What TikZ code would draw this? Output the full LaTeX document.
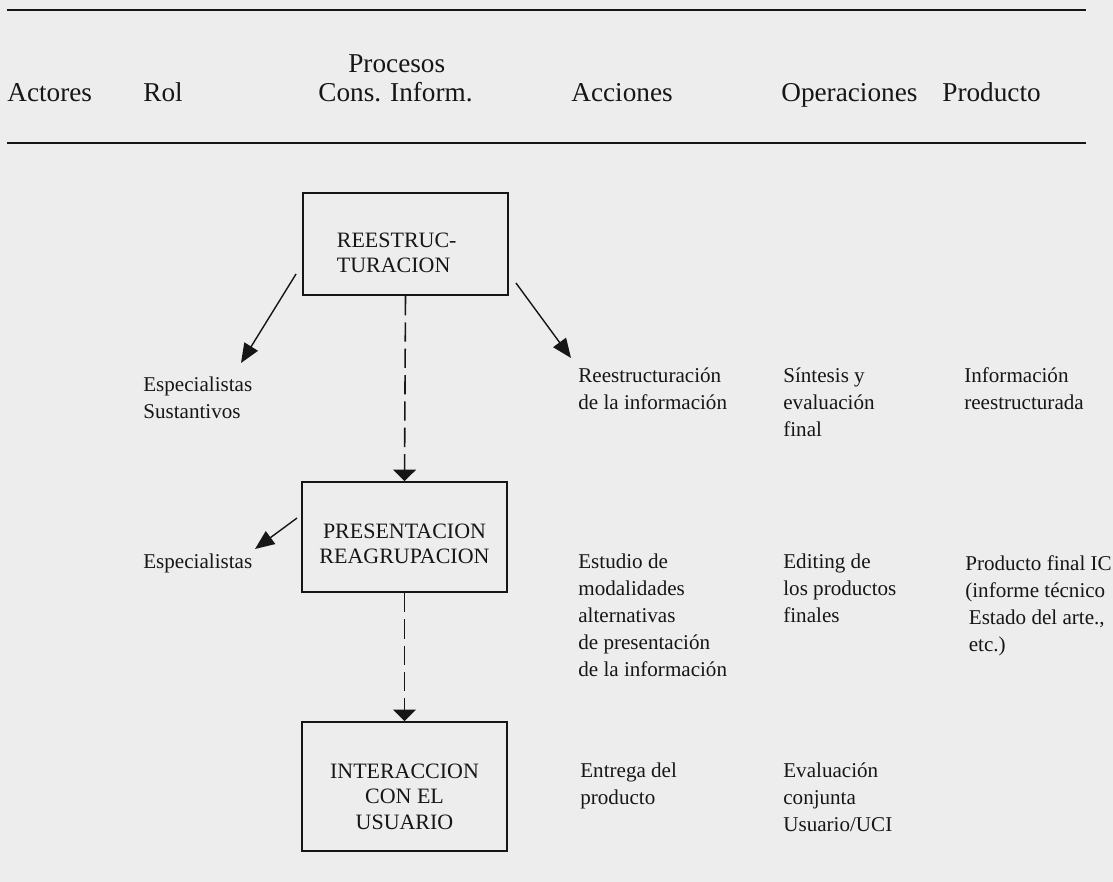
\documentclass[tikz,border=0pt]{standalone}
\usepackage{fontspec}
\setmainfont{Liberation Serif}
\usetikzlibrary{arrows.meta}
\definecolor{paper}{HTML}{EDEDED}
\definecolor{ink}{HTML}{161616}

\begin{document}
\begin{tikzpicture}[x=0.02cm,y=-0.02cm]
\tikzstyle{caja}=[draw=ink,line width=1.1pt,minimum width=4.1cm,align=center,text=ink,font=\fontsize{12.5}{14.5}\selectfont]
\tikzstyle{texto}=[anchor=base west,align=left,inner sep=0pt,text=ink,font=\fontsize{12}{15.3}\selectfont]
\tikzstyle{cabeza}=[anchor=base west,inner sep=0pt,text=ink,font=\fontsize{15.5}{18}\selectfont]
\tikzstyle{flecha}=[draw=ink,line width=0.8pt,-{Triangle[length=11pt,width=9pt]}]
\tikzstyle{enlace}=[draw=ink,line width=0.9pt,dash pattern=on 11pt off 4pt,-{Triangle[length=6.5pt,width=13pt]}]
\fill[paper] (0,0) rectangle (1113,882);
% rules of the table head
\coordinate (r1a) at (7,10);
\coordinate (r1b) at (1086,10);
\coordinate (r2a) at (7,143);
\coordinate (r2b) at (1086,143);
\draw[ink,line width=0.9pt] (r1a) -- (r1b);
\draw[ink,line width=0.9pt] (r2a) -- (r2b);
\node[cabeza] (procesos) at (348,73) {Procesos};
\foreach \name/\x/\txt in {
	actores/7/Actores,
	rol/143/Rol,
	cons/318/Cons. Inform.,
	acciones/571/Acciones,
	operaciones/781/Operaciones,
	producto/942/Producto}
	\node[cabeza] (\name) at (\x,102) {\txt};
% process boxes
\node[caja,minimum height=2.04cm,align=left] (1) at (405.5,244) {\rule{0pt}{18.5pt}REESTRUC-\hspace*{10pt}\\TURACION};
\node[caja,minimum height=2.2cm] (2) at (404.5,537) {\rule{0pt}{16.3pt}PRESENTACION\\REAGRUPACION};
\node[caja,minimum height=2.58cm] (3) at (404.5,786.5) {\rule{0pt}{19.7pt}INTERACCION\\CON EL\\USUARIO};
% columns (placed at the baseline of the last line)
\node[texto] (esp1) at (143,418) {Especialistas\\Sustantivos};
\node[texto] (acc1) at (578,409) {Reestructuración\\de la información};
\node[texto] (ope1) at (783,436) {Síntesis y\\evaluación\\final};
\node[texto] (pro1) at (964,409) {Información\\reestructurada};
\node[texto] (esp2) at (143,568) {Especialistas};
\node[texto] (acc2) at (578,676) {Estudio de\\modalidades\\alternativas\\de presentación\\de la información};
\node[texto] (ope2) at (783,622) {Editing de\\los productos\\finales};
\node[texto] (pro2) at (965,651) {Producto final IC\\(informe técnico\\\hspace{2pt}Estado del arte.,\\\hspace{2pt}etc.)};
\node[texto] (acc3) at (580,804) {Entrega del\\producto};
\node[texto] (ope3) at (783,831) {Evaluación\\conjunta\\Usuario/UCI};
% arrows
\coordinate (t1) at (241,363);
\coordinate (t2) at (571,358);
\coordinate (t3) at (255,549);
\draw[flecha] ([shift={(-6,-22)}]1.south west) -- (t1);
\draw[flecha] ([shift={(7,-13)}]1.south east) -- (t2);
\draw[flecha] ([shift={(-4,-19)}]2.west) -- (t3);
\draw[enlace] (1.south) -- (2.north);
\draw[enlace] (2.south) -- (3.north);
\end{tikzpicture}
\end{document}
